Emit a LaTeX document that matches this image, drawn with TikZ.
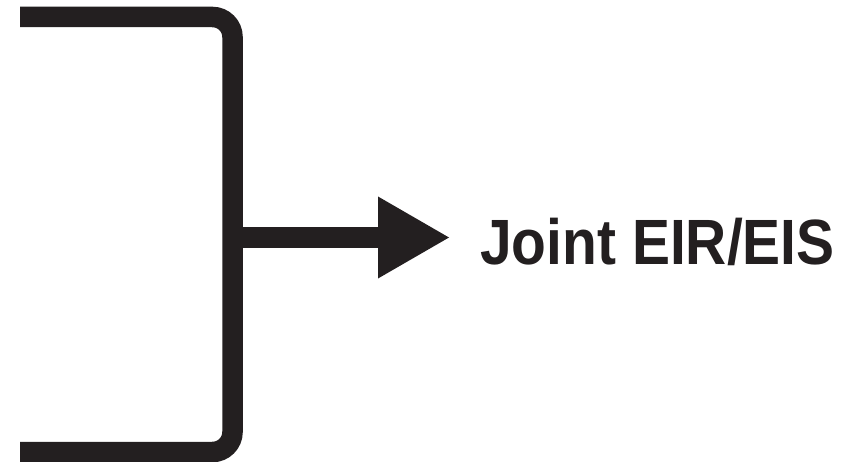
\documentclass[tikz,border=0pt]{standalone}
\usepackage{fontspec}
\setmainfont{Liberation Sans}
\usepackage{graphicx}
\usetikzlibrary{arrows.meta,positioning}
\definecolor{inkdark}{HTML}{231F20}

\begin{document}
\begin{tikzpicture}[x=1pt,y=-1pt,
  bracket/.style={draw=inkdark,line width=20.5pt,rounded corners=20pt},
  arr/.style={draw=inkdark,line width=21pt,
              -{Triangle[length=71pt,width=82pt,line width=0pt]}},
  labl/.style={font=\fontsize{64}{72}\selectfont\bfseries,text=inkdark,
               inner sep=0pt,anchor=base west}
]
\useasboundingbox (0,0) rectangle (858,462);

% bracket ends and junction
\coordinate (topend) at (20,17);
\coordinate (botend) at (20,452);
\coordinate (join) at (232.5,237.5);
\coordinate (tip) at (449,237.5);

% label
\node[labl] (lbl) at (480,264) {\scalebox{0.89}[1]{Joint EIR/EIS}};

% bracket
\draw[bracket] (topend) -- (join |- topend) -- (join |- botend) -- (botend);
% arrow to label
\draw[arr] (join) -- (tip);

\end{tikzpicture}
\end{document}
